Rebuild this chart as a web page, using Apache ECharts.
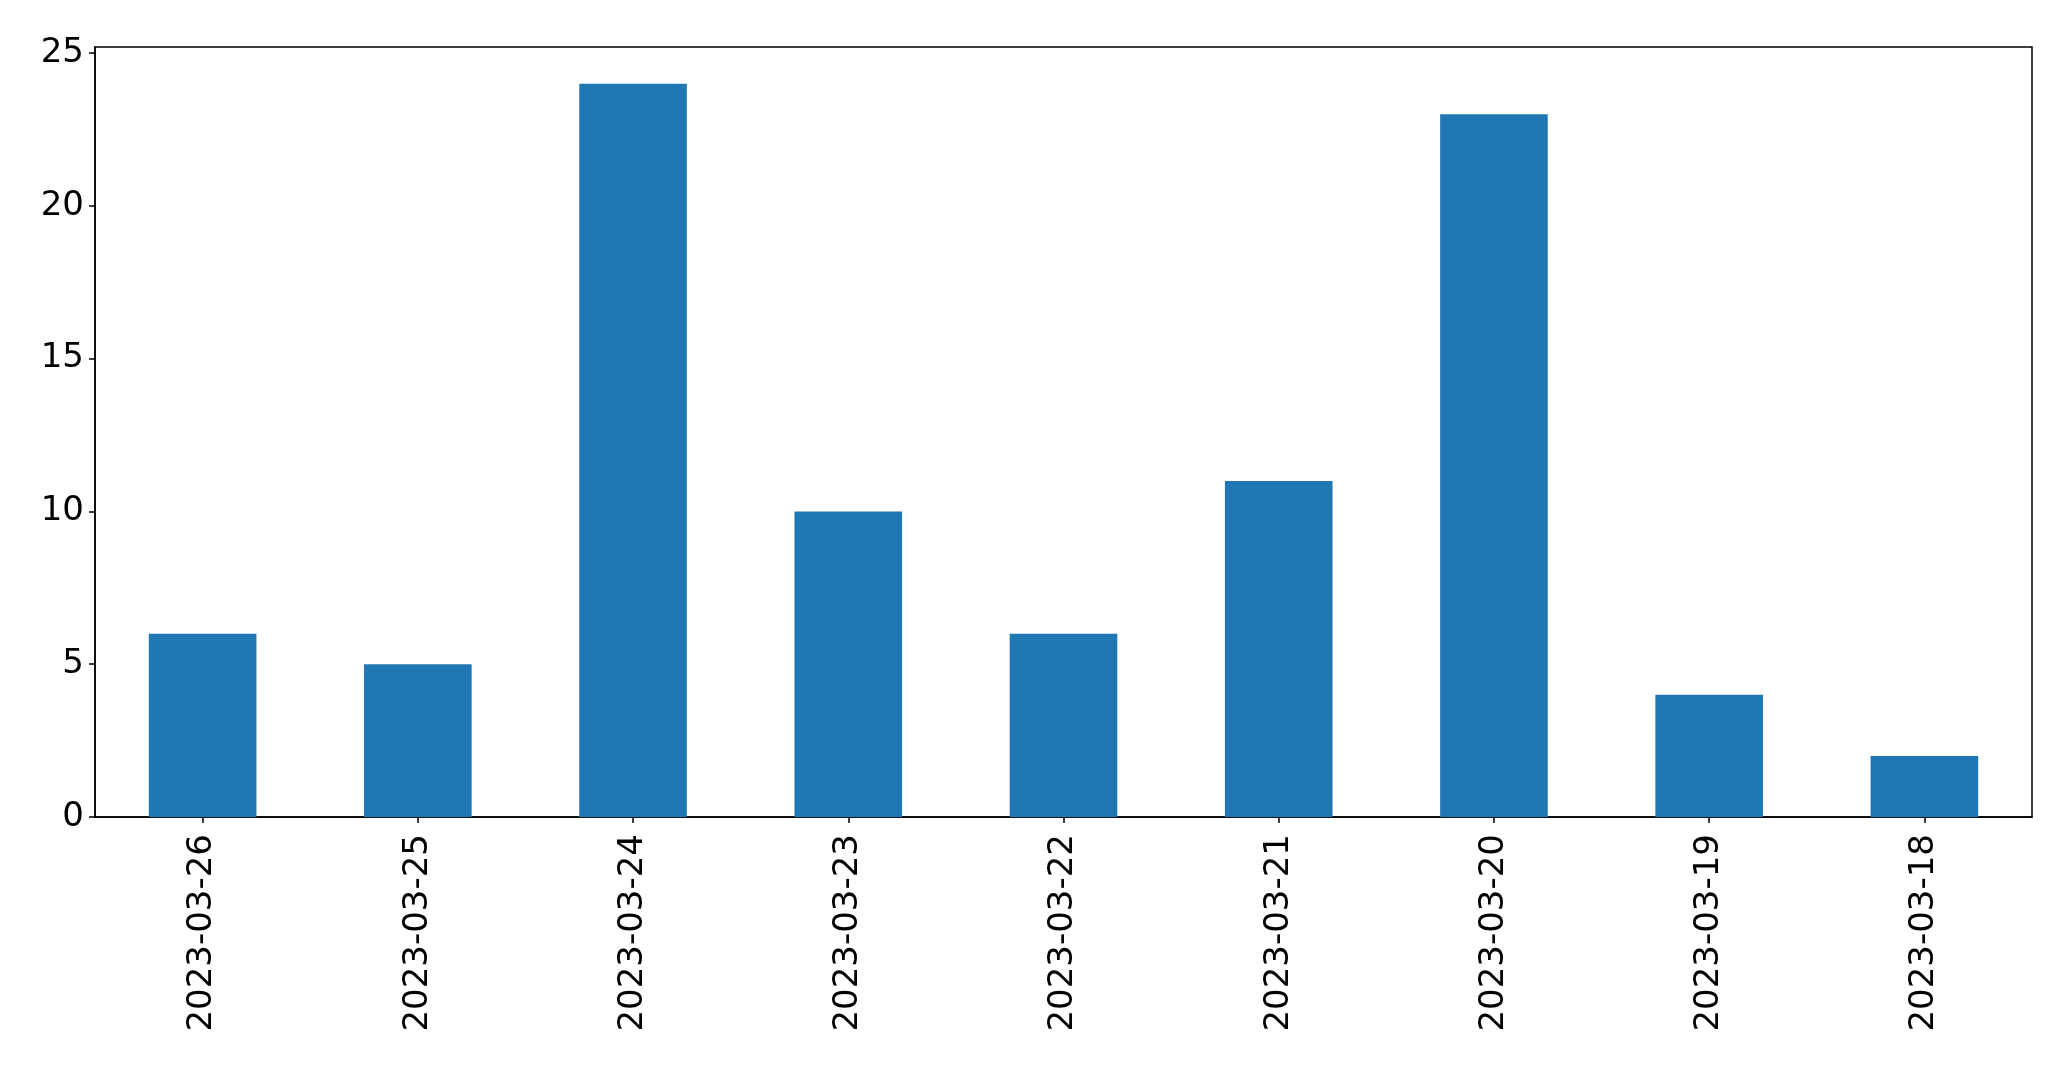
<!DOCTYPE html>
<html><head><meta charset="utf-8">
<script src="https://cdn.jsdelivr.net/npm/echarts@6/dist/echarts.min.js"></script>
<style>html,body{margin:0;padding:0;background:#fff}#c{width:2071px;height:1069px}</style>
</head><body><div id="c"></div>
<script>
var categories = ['2023-03-26','2023-03-25','2023-03-24','2023-03-23','2023-03-22','2023-03-21','2023-03-20','2023-03-19','2023-03-18'];
var values = [6,5,24,10,6,11,23,4,2];
var yTicks = [0,5,10,15,20,25];

var chart = echarts.init(document.getElementById('c'), null, {renderer:'canvas'});
var font = 'DejaVu Sans';
chart.setOption({
  animation:false,
  backgroundColor:'#fff',
  grid:{left:95, right:39, top:47, bottom:252, show:true, borderColor:'#000', borderWidth:1.5, backgroundColor:'transparent'},
  xAxis:{type:'category', data:categories,
    axisLine:{show:true, lineStyle:{color:'#000', width:1.5}},
    axisTick:{show:true, alignWithLabel:true, length:6, lineStyle:{color:'#000', width:1.5}},
    axisLabel:{rotate:90, fontFamily:font, fontSize:34, color:'#000', margin:17, interval:0},
    splitLine:{show:false}},
  yAxis:{type:'value', min:0, max:25.2,
    axisLine:{show:true, lineStyle:{color:'#000', width:1.5}},
    axisTick:{show:true, length:6, customValues:yTicks, lineStyle:{color:'#000', width:1.5}},
    axisLabel:{fontFamily:font, fontSize:34, color:'#000', margin:11, customValues:yTicks},
    splitLine:{show:false}},
  series:[{type:'bar', data:values, barWidth:'50%', itemStyle:{color:'#1f77b4'}}]
});
</script></body></html>
